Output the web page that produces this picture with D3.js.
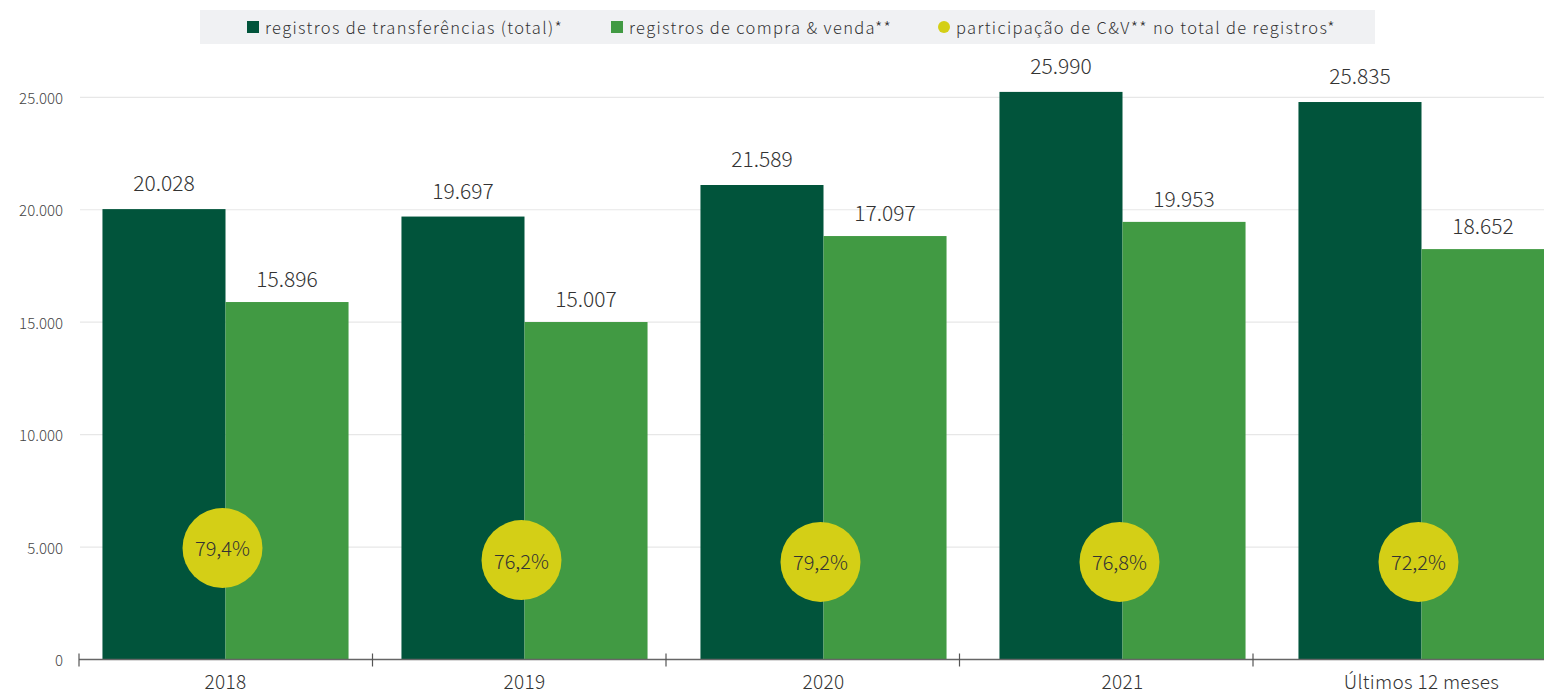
<!DOCTYPE html>
<html>
<head>
<meta charset="utf-8">
<script src="https://cdn.jsdelivr.net/npm/d3@7"></script>
<style>
  html, body { margin: 0; padding: 0; background: #fff; }
  svg text { font-family: "Noto Sans CJK JP", "Noto Sans", sans-serif; fill: #333; font-weight: 300; }
</style>
</head>
<body>
<svg id="chart" width="1544" height="695"></svg>
<script>
// ---- data ----
const categories = ["2018", "2019", "2020", "2021", "Últimos 12 meses"];
// bar heights as drawn in the reference
const totalValues = [20028, 19697, 21100, 25240, 24790];
const cvValues = [15896, 15007, 18830, 19460, 18250];
// printed labels
const totalLabels = ["20.028", "19.697", "21.589", "25.990", "25.835"];
const cvLabels = ["15.896", "15.007", "17.097", "19.953", "18.652"];
const shareLabels = ["79,4%", "76,2%", "79,2%", "76,8%", "72,2%"];
// vertical anchor (y-axis units) of the share bubbles
const shareAnchor = [4960, 4420, 4340, 4340, 4340];
const yTicks = [0, 5000, 10000, 15000, 20000, 25000];
const yTickLabels = ["0", "5.000", "10.000", "15.000", "20.000", "25.000"];
const seriesNames = ["registros de transferências (total)*", "registros de compra & venda**", "participação de C&V** no total de registros*"];

const colors = { total: "#01543b", cv: "#419a43", share: "#d4cf16" };

const svg = d3.select("#chart");

const y = d3.scaleLinear().domain([0, 25000]).range([659.5, 97.3]);

// bars: band scale
const x = d3.scaleBand().domain(categories).range([76, 1571]).paddingInner(0.177).paddingOuter(0.0885);
const xSub = d3.scaleBand().domain(["total", "cv"]).range([0, x.bandwidth()]);
// axis tick marks
const xAxisScale = d3.scaleBand().domain(categories).range([79, 1546.5]);

// gridlines
svg.append("g").selectAll("line").data(yTicks.slice(1)).join("line")
  .attr("x1", 80).attr("x2", 1544)
  .attr("y1", d => y(d)).attr("y2", d => y(d))
  .attr("stroke", "#e7e7e7").attr("stroke-width", 1.2);

// y labels
svg.append("g").selectAll("text").data(yTicks).join("text")
  .attr("x", 63).attr("y", d => y(d))
  .attr("text-anchor", "end").attr("dominant-baseline", "central")
  .attr("font-size", 15).style("fill", "#444")
  .text((d, i) => yTickLabels[i]);

// bars
const groups = svg.append("g").selectAll("g").data(categories).join("g")
  .attr("transform", d => `translate(${x(d)},0)`);

groups.append("rect")
  .attr("x", xSub("total")).attr("width", xSub.bandwidth())
  .attr("y", (d, i) => y(totalValues[i]))
  .attr("height", (d, i) => y(0) - y(totalValues[i]))
  .attr("fill", colors.total);

groups.append("rect")
  .attr("x", xSub("cv")).attr("width", xSub.bandwidth())
  .attr("y", (d, i) => y(cvValues[i]))
  .attr("height", (d, i) => y(0) - y(cvValues[i]))
  .attr("fill", colors.cv);

groups.append("text")
  .attr("x", xSub("total") + xSub.bandwidth() / 2)
  .attr("y", (d, i) => y(totalValues[i]) - 18)
  .attr("text-anchor", "middle").attr("font-size", 21)
  .text((d, i) => totalLabels[i]);

groups.append("text")
  .attr("x", xSub("cv") + xSub.bandwidth() / 2)
  .attr("y", (d, i) => y(cvValues[i]) - 15)
  .attr("text-anchor", "middle").attr("font-size", 21)
  .text((d, i) => cvLabels[i]);

// share bubbles
groups.append("circle")
  .attr("cx", x.bandwidth() / 2 - 3)
  .attr("cy", (d, i) => y(shareAnchor[i]))
  .attr("r", 40)
  .attr("fill", colors.share);

groups.append("text")
  .attr("x", x.bandwidth() / 2 - 3)
  .attr("y", (d, i) => y(shareAnchor[i]))
  .attr("text-anchor", "middle").attr("dominant-baseline", "central")
  .attr("font-size", 20)
  .text((d, i) => shareLabels[i]);

// x axis
svg.append("line")
  .attr("x1", 79).attr("x2", 1544)
  .attr("y1", y(0)).attr("y2", y(0))
  .attr("stroke", "#666").attr("stroke-width", 1.5);

svg.append("g").selectAll("line").data(categories).join("line")
  .attr("x1", d => xAxisScale(d)).attr("x2", d => xAxisScale(d))
  .attr("y1", y(0) - 6).attr("y2", y(0) + 7)
  .attr("stroke", "#555").attr("stroke-width", 1.2);

svg.append("g").selectAll("text").data(categories).join("text")
  .attr("x", d => x(d) + x.bandwidth() / 2)
  .attr("y", 689)
  .attr("text-anchor", "middle").attr("font-size", 19)
  .style("letter-spacing", "0.3px")
  .text(d => d);

// legend
const legend = svg.append("g");
legend.append("rect").attr("x", 200).attr("y", 10).attr("width", 1175).attr("height", 34).attr("fill", "#f0f1f3");
const legendX = [247, 611, 938];
legend.append("rect").attr("x", legendX[0]).attr("y", 21).attr("width", 12).attr("height", 12).attr("fill", colors.total);
legend.append("rect").attr("x", legendX[1]).attr("y", 21).attr("width", 12).attr("height", 12).attr("fill", colors.cv);
legend.append("circle").attr("cx", legendX[2] + 6).attr("cy", 27).attr("r", 6).attr("fill", colors.share);
legend.selectAll("text.leg").data(seriesNames).join("text")
  .attr("class", "leg")
  .attr("x", (d, i) => legendX[i] + 18)
  .attr("y", 27)
  .attr("dominant-baseline", "central")
  .attr("font-size", 16.5)
  .style("letter-spacing", "1.35px")
  .text(d => d);
</script>
</body>
</html>
